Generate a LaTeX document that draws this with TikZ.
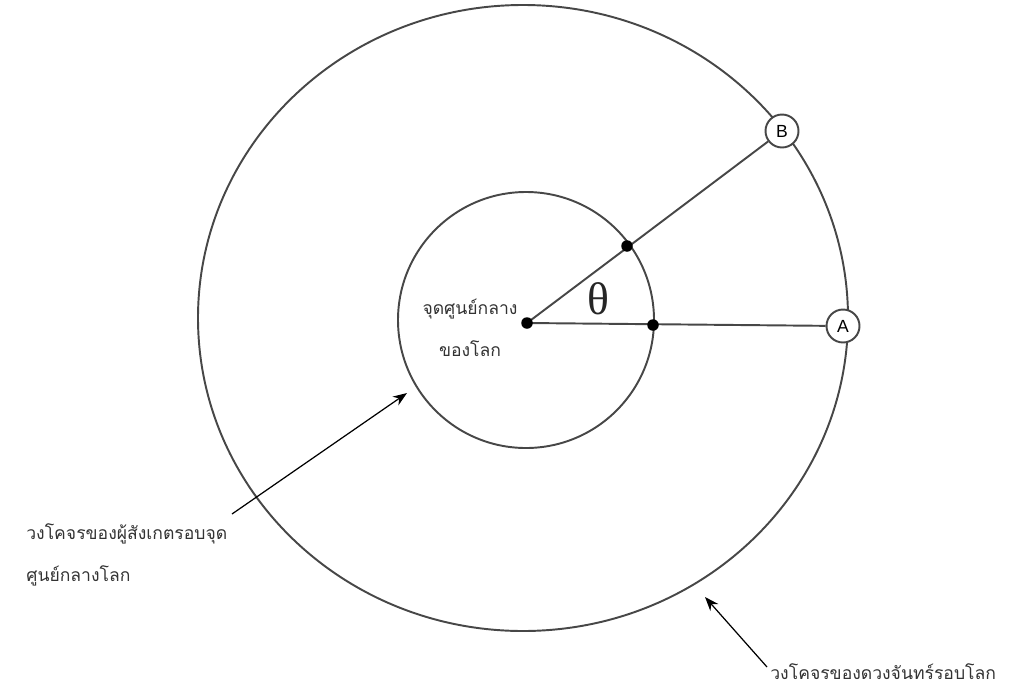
\documentclass[tikz,border=0pt]{standalone}
\usepackage{fontspec}
\newfontfamily\thaifont[Script=Thai]{Loma}
\newfontfamily\thetafont{Liberation Serif}
\setsansfont{Liberation Sans}
\usetikzlibrary{arrows.meta}

\begin{document}
\begin{tikzpicture}[
    x=0.02cm, y=-0.02cm,
    orbit/.style={draw=black!72, line width=1.1pt},
    ray/.style={draw=black!72, line width=1.1pt},
    dot/.style={circle, fill=black, inner sep=0pt, minimum size=0.23cm},
    moon/.style={circle, draw=black!72, line width=1.1pt, fill=white, inner sep=0pt, minimum size=0.66cm, font=\sffamily\fontsize{10}{11}\selectfont},
    thai/.style={font=\thaifont\fontsize{10}{24}\selectfont, text=black!80, inner sep=0pt},
    pointer/.style={-{Stealth[length=8pt, width=6pt]}, draw=black, line width=0.7pt}
]
    \useasboundingbox (0,0) rectangle (1016,693);

    % orbits
    \draw[orbit] (523,318) ellipse [x radius=325, y radius=313];
    \draw[orbit] (526,320) circle [radius=128];

    % centre, observer and moon positions
    \coordinate (ctr) at (527,323);
    \node (moonB) at (782,131) [moon] {B};
    \node (moonA) at (843,326) [moon] {A};

    \draw[ray] (ctr) -- (moonA);
    \draw[ray] (ctr) -- (moonB);

    \node (earth) at (ctr) [dot] {};
    \node (obsB) at (627,246) [dot] {};
    \node (obsA) at (653,325) [dot] {};

    \node (theta) at (598,299) [font=\thetafont\fontsize{26}{28}\selectfont, text=black!85] {θ};

    % labels
    \node (lblctr) at (470,328) [thai, align=center] {จุดศูนย์กลาง\\ของโลก};
    \node (lblobs) at (26,555) [thai, anchor=west, align=left] {วงโคจรของผู้สังเกตรอบจุด\\ศูนย์กลางโลก};
    \node (lblmoon) at (770,672) [thai, anchor=west] {วงโคจรของดวงจันทร์รอบโลก};

    \coordinate (tailobs) at (232,514);
    \coordinate (tailmoon) at (767,667);
    \coordinate (tipobs) at (407,393);
    \coordinate (tipmoon) at (705,597);
    \draw[pointer] (tailobs) -- (tipobs);
    \draw[pointer] (tailmoon) -- (tipmoon);
\end{tikzpicture}
\end{document}
